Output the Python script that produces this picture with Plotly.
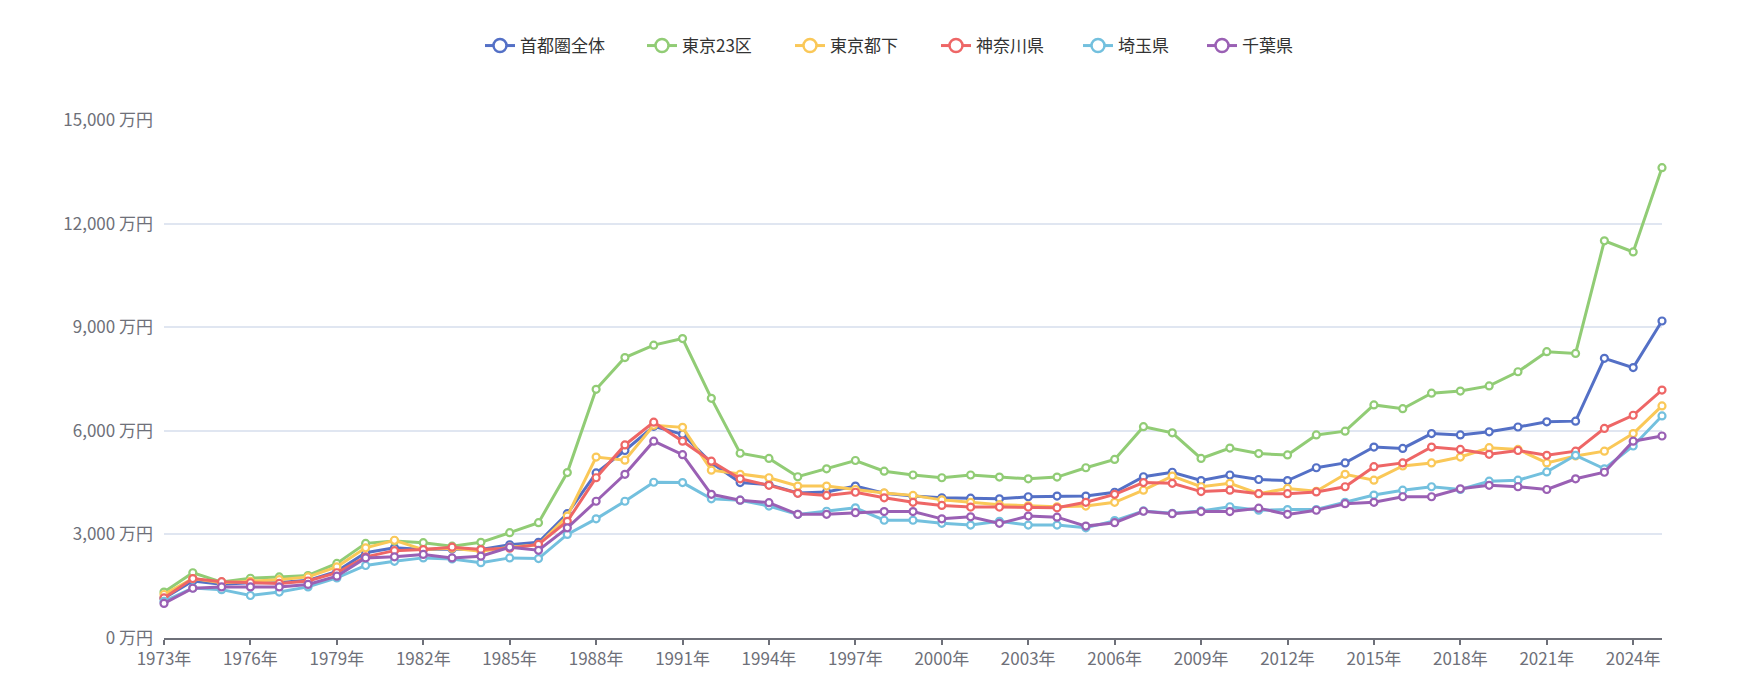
import plotly.graph_objects as go

years = list(range(1973, 2026))

series_names = ["首都圏全体", "東京23区", "東京都下", "神奈川県", "埼玉県", "千葉県"]

shutoken = [1150, 1650, 1560, 1600, 1610, 1670, 1930, 2470, 2610, 2560, 2580, 2560, 2700, 2770,
            3600, 4780, 5430, 6130, 5900, 5070, 4500, 4440, 4200, 4230, 4400, 4190, 4110, 4060,
            4050, 4030, 4090, 4110, 4110, 4220, 4670, 4800, 4560, 4720, 4590, 4560, 4930, 5070,
            5530, 5490, 5920, 5880, 5970, 6110, 6260, 6280, 8100, 7830, 9180]

tokyo23 = [1330, 1890, 1620, 1730, 1770, 1810, 2160, 2740, 2810, 2760, 2660, 2770, 3050, 3340,
           4790, 7200, 8120, 8480, 8670, 6940, 5350, 5200, 4670, 4900, 5140, 4830, 4720, 4640,
           4720, 4660, 4610, 4660, 4930, 5170, 6120, 5940, 5200, 5500, 5340, 5300, 5880, 5990,
           6750, 6640, 7090, 7150, 7300, 7710, 8290, 8240, 11500, 11180, 13620]

tokyo_shitoka = [1260, 1720, 1600, 1640, 1690, 1770, 2060, 2610, 2830, 2560, 2600, 2510, 2630, 2700,
                 3530, 5240, 5150, 6160, 6100, 4860, 4740, 4640, 4400, 4400, 4300, 4200, 4130, 4000,
                 3930, 3860, 3830, 3800, 3820, 3930, 4280, 4690, 4380, 4480, 4180, 4330, 4250, 4740,
                 4570, 4980, 5070, 5240, 5510, 5460, 5070, 5270, 5410, 5920, 6720]

kanagawa = [1160, 1720, 1630, 1600, 1580, 1650, 1890, 2350, 2530, 2560, 2630, 2560, 2600, 2710,
            3380, 4640, 5590, 6250, 5700, 5120, 4610, 4420, 4190, 4130, 4220, 4060, 3930, 3840,
            3790, 3790, 3790, 3770, 3930, 4160, 4500, 4480, 4240, 4280, 4180, 4180, 4230, 4380,
            4960, 5070, 5530, 5460, 5320, 5430, 5290, 5410, 6070, 6450, 7180]

saitama = [1060, 1450, 1400, 1230, 1330, 1480, 1740, 2100, 2220, 2320, 2290, 2180, 2320, 2300,
           3000, 3450, 3960, 4510, 4500, 4030, 3990, 3820, 3580, 3670, 3770, 3410, 3410, 3320,
           3270, 3380, 3270, 3270, 3190, 3400, 3680, 3610, 3680, 3800, 3700, 3720, 3720, 3930,
           4140, 4280, 4380, 4300, 4540, 4570, 4810, 5290, 4900, 5560, 6430]

chiba = [1000, 1440, 1480, 1480, 1480, 1550, 1790, 2320, 2350, 2420, 2320, 2370, 2630, 2540,
         3190, 3960, 4740, 5700, 5310, 4160, 3990, 3920, 3580, 3580, 3630, 3660, 3660, 3450,
         3510, 3320, 3530, 3500, 3240, 3340, 3670, 3600, 3660, 3660, 3760, 3580, 3700, 3890,
         3930, 4090, 4090, 4320, 4420, 4380, 4300, 4610, 4800, 5700, 5850]

all_values = [shutoken, tokyo23, tokyo_shitoka, kanagawa, saitama, chiba]
colors = ["#5470c6", "#91cc75", "#fac858", "#ee6666", "#73c0de", "#9a60b4"]

x_tickvals = list(range(1973, 2026, 3))
x_ticktext = [f"{y}年" for y in x_tickvals]
y_tickvals = [0, 3000, 6000, 9000, 12000, 15000]
y_ticktext = [f"{v:,} 万円" for v in y_tickvals]

FONT = "Noto Sans CJK SC, Noto Sans, sans-serif"
W, H = 1741, 687

# left pixel of each legend item (layout only)
legend_left_px = [480, 642, 790, 936, 1078, 1202]

fig = go.Figure()
legend_keys = ["legend"] + [f"legend{i}" for i in range(2, 7)]
for name, vals, col, lk in zip(series_names, all_values, colors, legend_keys):
    fig.add_trace(go.Scatter(
        x=years, y=vals, name=name, mode="lines+markers",
        line=dict(color=col, width=3),
        marker=dict(symbol="circle", size=7, color="white", line=dict(color=col, width=2.2)),
        cliponaxis=False, legendgroup=name, showlegend=False,
    ))
    # legend entry (no data of its own)
    fig.add_trace(go.Scatter(
        x=[None], y=[None], name=name, mode="lines+markers",
        line=dict(color=col, width=3),
        marker=dict(symbol="circle", size=13, color="white", line=dict(color=col, width=2.5)),
        legendgroup=name, showlegend=True, legend=lk, hoverinfo="skip",
    ))

layout_legends = {}
for lk, px in zip(legend_keys, legend_left_px):
    layout_legends[lk] = dict(
        orientation="h", xref="container", yref="container",
        x=px / W, xanchor="left", y=1 - 46 / H, yanchor="middle",
        font=dict(family=FONT, size=17, color="#333333"),
        itemsizing="trace", bgcolor="rgba(0,0,0,0)",
    )

fig.update_layout(
    width=W, height=H,
    margin=dict(l=164, r=79, t=120, b=49),
    paper_bgcolor="white", plot_bgcolor="white",
    font=dict(family=FONT, size=17, color="#6e7079"),
    showlegend=True,
    **layout_legends,
    xaxis=dict(
        range=[1973, 2025], tickvals=x_tickvals, ticktext=x_ticktext,
        showgrid=False, zeroline=False, showline=True, linecolor="#6e7079", linewidth=1.5,
        ticks="outside", ticklen=5, tickcolor="#6e7079", tickwidth=1.5,
        tickfont=dict(family=FONT, size=17, color="#6e7079"),
    ),
    yaxis=dict(
        range=[0, 15000], tickvals=y_tickvals, ticktext=y_ticktext,
        showgrid=True, gridcolor="#E0E6F1", gridwidth=1.5, zeroline=False, showline=False,
        ticks="", ticklabelstandoff=10,
        tickfont=dict(family=FONT, size=17, color="#6e7079"),
    ),
)

fig.write_html("out.html")
